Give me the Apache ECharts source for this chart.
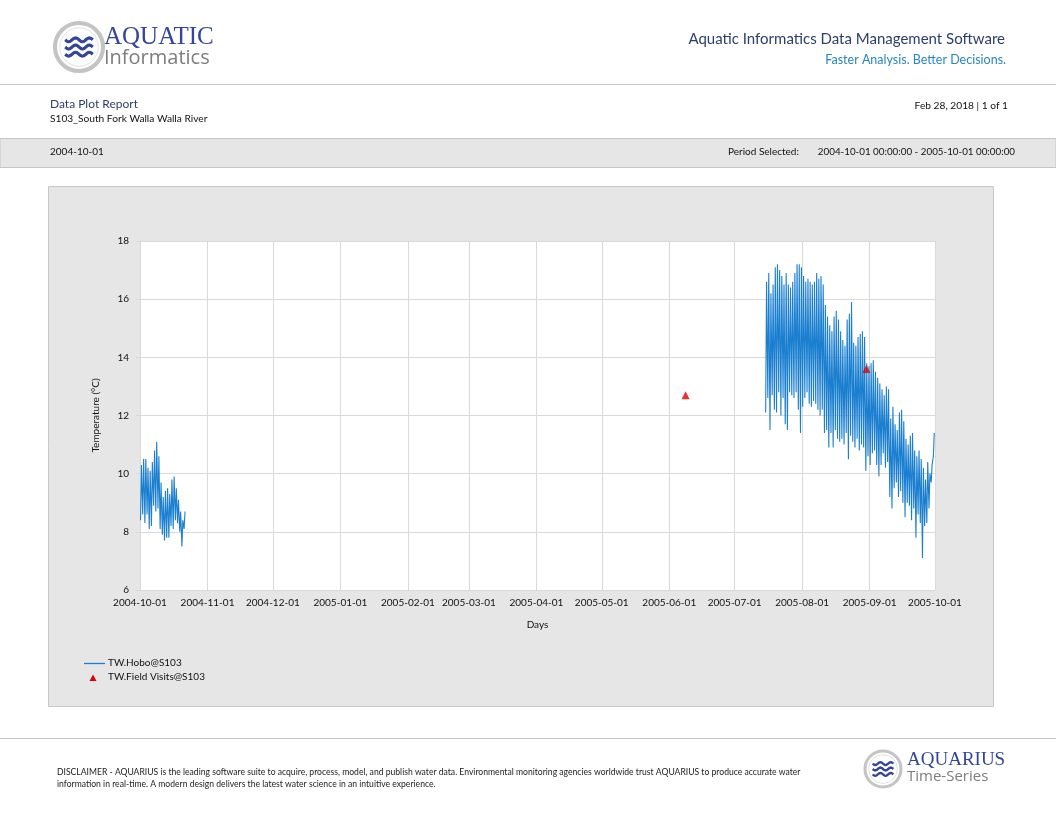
<!DOCTYPE html>
<html>
<head>
<meta charset="utf-8">
<title>Data Plot Report - S103</title>
<script src="https://cdn.jsdelivr.net/npm/echarts@6.0.0/dist/echarts.min.js"></script>
<style>
  html, body { margin: 0; padding: 0; background: #fff; }
  #chart { width: 1056px; height: 816px; }
</style>
</head>
<body>
<div id="chart"></div>
<script>
// ---- data ----
// TW.Hobo@S103, first run: daily low / high from 2004-10-01
const hoboStart1 = '2004-10-01';
const hoboMax1 = [10.3, 10.5, 10.5, 10.2, 10.1, 10.4, 10.8, 11.1, 10.6, 9.7, 9.2, 9.4, 9.5, 9.3, 9.8, 9.9, 9.5, 9.1, 8.7, 8.4, 8.7];
const hoboMin1 = [8.4, 8.6, 8.3, 8.6, 8.1, 8.2, 8.9, 8.7, 8.8, 8.1, 7.9, 7.7, 7.8, 7.8, 8.2, 8.1, 8.4, 8.3, 8.0, 7.5, 8.1];

// second run: daily low / high from 2005-07-15
const hoboStart2 = '2005-07-15';
const hoboMax2 = [
  16.6, 16.9, 16.2, 16.5, 17.1, 17.2, 17.0, 16.8, 16.5, 16.9,
  16.5, 16.4, 16.6, 16.9, 17.2, 17.2, 17.1, 16.8, 16.6, 16.7,
  16.6, 16.5, 16.6, 16.9, 16.7, 16.8, 16.5, 15.8, 15.4, 15.1,
  14.9, 15.4, 15.6, 15.3, 14.9, 14.6, 14.4, 15.3, 15.5, 15.9,
  14.5, 14.4, 14.7, 14.8, 14.9, 14.7, 13.8, 13.7, 13.8, 13.9,
  13.5, 13.3, 13.1, 12.9, 12.7, 13.0, 12.9, 11.9, 12.3, 11.7,
  11.5, 12.1, 12.2, 11.8, 11.2, 11.0, 11.3, 11.4, 10.8, 10.6,
  10.8, 10.5, 10.2, 9.8, 10.4, 10.0, 10.3, 11.4
];
const hoboMin2 = [
  12.1, 12.6, 11.5, 12.7, 12.2, 12.1, 12.8, 12.0, 12.6, 11.7,
  11.5, 12.8, 12.7, 12.6, 12.8, 12.2, 11.4, 12.3, 12.6, 12.8,
  12.4, 12.3, 12.5, 12.4, 12.2, 12.0, 12.2, 11.4, 11.5, 10.9,
  11.4, 10.9, 11.5, 11.2, 11.1, 11.2, 11.0, 11.4, 10.5, 11.3,
  11.1, 10.9, 11.2, 10.8, 11.0, 10.9, 10.1, 10.6, 10.3, 10.7,
  10.8, 10.3, 9.9, 10.3, 10.7, 10.2, 10.4, 9.2, 8.8, 9.5,
  9.7, 9.2, 9.4, 9.0, 8.5, 9.0, 8.9, 8.4, 8.8, 7.8,
  8.6, 8.3, 7.1, 8.2, 8.3, 8.8, 9.7, 10.6
];

// TW.Field Visits@S103
const visitTimes = ['2005-06-08 12:00', '2005-08-30 12:00'];
const visitValues = [12.7, 13.6];

const xMin = '2004-10-01';
const xMax = '2005-10-01';
const yTicks = [6, 8, 10, 12, 14, 16, 18];

// ---- build series data ----
const DAY = 86400000;
function dailySwing(start, lows, highs) {
  const t0 = new Date(start + 'T00:00:00').getTime();
  const out = [];
  for (let i = 0; i < lows.length; i++) {
    out.push([t0 + i * DAY + 6 * 3600000, lows[i]]);
    out.push([t0 + i * DAY + 16 * 3600000, highs[i]]);
  }
  return out;
}
const hoboData = dailySwing(hoboStart1, hoboMin1, hoboMax1)
  .concat([[new Date('2005-03-01T00:00:00').getTime(), null]])
  .concat(dailySwing(hoboStart2, hoboMin2, hoboMax2));
const visitData = visitTimes.map((t, i) => [new Date(t.replace(' ', 'T') + ':00').getTime(), visitValues[i]]);

const navy = '#2b3f6b';
const logoBlue = '#34469a';
const lineBlue = '#1b7fd0';
const ff = 'Lato, "Noto Sans", sans-serif';

// wavy lines for the logos
function wave(cx, cy, w, amp) {
  const pts = [];
  for (let k = 0; k <= 24; k++) {
    const x = cx - w / 2 + (w * k) / 24;
    pts.push([x, cy + amp * Math.sin((k / 24) * Math.PI * 4)]);
  }
  return pts;
}
function logo(cx, cy, r) {
  const els = [
    { type: 'circle', shape: { cx: cx, cy: cy, r: r }, style: { fill: '#fff', stroke: '#c4c4c4', lineWidth: r * 0.17 } },
    { type: 'circle', shape: { cx: cx, cy: cy, r: r * 0.8 }, style: { fill: '#fff', stroke: '#e2e2e2', lineWidth: 1 } }
  ];
  [-0.3, 0, 0.3].forEach(function (d) {
    els.push({ type: 'polyline', shape: { points: wave(cx, cy + d * r, r * 1.15, r * 0.08) },
      style: { stroke: logoBlue, lineWidth: r * 0.13, fill: null } });
  });
  return els;
}

const chart = echarts.init(document.getElementById('chart'), null, { renderer: 'canvas' });

const graphics = [
  // plot panel
  { type: 'rect', z: -10, shape: { x: 48.5, y: 186.5, width: 945, height: 520 }, style: { fill: '#e6e6e6', stroke: '#c8c8c8', lineWidth: 1 } },
  // header
  { type: 'text', left: 104, top: 25, style: { text: 'AQUATIC', font: '25px "Liberation Serif", serif', fill: logoBlue } },
  { type: 'text', left: 104, top: 48, style: { text: 'Informatics', font: '20px "Open Sans", sans-serif', fill: '#7d7d7d' } },
  { type: 'text', right: 51, top: 32, style: { text: 'Aquatic Informatics Data Management Software', font: '15px ' + ff, fill: navy } },
  { type: 'text', right: 50, top: 53, style: { text: 'Faster Analysis. Better Decisions.', font: '12.5px ' + ff, fill: '#2a86c2' } },
  { type: 'line', shape: { x1: 0, y1: 84.5, x2: 1056, y2: 84.5 }, style: { stroke: '#c6c6c6', lineWidth: 1 } },
  { type: 'text', left: 50, top: 98, style: { text: 'Data Plot Report', font: '12px ' + ff, fill: navy } },
  { type: 'text', left: 50, top: 114, style: { text: 'S103_South Fork Walla Walla River', font: '10.2px ' + ff, fill: '#111' } },
  { type: 'text', right: 48, top: 101, style: { text: 'Feb 28, 2018 | 1 of 1', font: '10.2px ' + ff, fill: '#111' } },
  { type: 'rect', z: -10, shape: { x: 0, y: 138.5, width: 1056, height: 29 }, style: { fill: '#e6e6e6', stroke: '#c6c6c6', lineWidth: 1 } },
  { type: 'text', left: 50, top: 147, style: { text: '2004-10-01', font: '10px ' + ff, fill: '#111' } },
  { type: 'text', left: 728, top: 147, style: { text: 'Period Selected:', font: '10px ' + ff, fill: '#111' } },
  { type: 'text', right: 41, top: 147, style: { text: '2004-10-01 00:00:00 - 2005-10-01 00:00:00', font: '9.8px ' + ff, fill: '#111' } },
  // legend
  { type: 'line', shape: { x1: 84, y1: 663.5, x2: 105, y2: 663.5 }, style: { stroke: lineBlue, lineWidth: 1.3 } },
  { type: 'text', left: 108, top: 658, style: { text: 'TW.Hobo@S103', font: '10px ' + ff, fill: '#111' } },
  { type: 'polygon', shape: { points: [[93, 674.5], [96.5, 681], [89.5, 681]] }, style: { fill: '#e00000' } },
  { type: 'text', left: 108, top: 672, style: { text: 'TW.Field Visits@S103', font: '10px ' + ff, fill: '#111' } },
  // footer
  { type: 'line', shape: { x1: 0, y1: 738.5, x2: 1056, y2: 738.5 }, style: { stroke: '#c6c6c6', lineWidth: 1 } },
  { type: 'text', left: 57, top: 768, style: { text: 'DISCLAIMER - AQUARIUS is the leading software suite to acquire, process, model, and publish water data. Environmental monitoring agencies worldwide trust AQUARIUS to produce accurate water', font: '8.6px ' + ff, fill: '#222' } },
  { type: 'text', left: 57, top: 780, style: { text: 'information in real-time. A modern design delivers the latest water science in an intuitive experience.', font: '8.6px ' + ff, fill: '#222' } },
  { type: 'text', left: 907, top: 751, style: { text: 'AQUARIUS', font: '19px "Liberation Serif", serif', fill: logoBlue } },
  { type: 'text', left: 907, top: 769, style: { text: 'Time-Series', font: '15px "Open Sans", sans-serif', fill: '#7d7d7d' } }
].concat(logo(79, 47, 24)).concat(logo(883, 769, 18));

const option = {
  backgroundColor: '#fff',
  animation: false,
  textStyle: { fontFamily: ff },
  grid: { left: 140, right: 121, top: 241, bottom: 226, containLabel: false, show: true, backgroundColor: '#fff', borderWidth: 0 },
  xAxis: {
    type: 'time',
    min: xMin,
    max: xMax,
    splitNumber: 12,
    minInterval: 28 * DAY,
    maxInterval: 31 * DAY,
    name: 'Days',
    nameLocation: 'middle',
    nameGap: 30,
    nameTextStyle: { fontSize: 10, color: '#111' },
    axisLine: { show: true, lineStyle: { color: '#d9d9d9' } },
    axisTick: { show: false },
    axisLabel: { formatter: '{yyyy}-{MM}-{dd}', fontSize: 10, color: '#111', margin: 8, hideOverlap: false, showMinLabel: true, showMaxLabel: true },
    splitLine: { show: true, lineStyle: { color: '#d9d9d9', width: 1 } }
  },
  yAxis: {
    type: 'value',
    min: yTicks[0],
    max: yTicks[yTicks.length - 1],
    interval: 2,
    name: 'Temperature (°C)',
    nameLocation: 'middle',
    nameGap: 39,
    nameTextStyle: { fontSize: 10, color: '#111' },
    axisLine: { show: true, lineStyle: { color: '#d9d9d9' } },
    axisTick: { show: true, length: 4, lineStyle: { color: '#d9d9d9' } },
    axisLabel: { fontSize: 10, color: '#111', margin: 11 },
    splitLine: { show: true, lineStyle: { color: '#d9d9d9', width: 1 } }
  },
  series: [
    {
      name: 'TW.Hobo@S103',
      type: 'line',
      data: hoboData,
      showSymbol: false,
      connectNulls: false,
      lineStyle: { color: lineBlue, width: 1.1 },
      itemStyle: { color: lineBlue }
    },
    {
      name: 'TW.Field Visits@S103',
      type: 'scatter',
      data: visitData,
      symbol: 'triangle',
      symbolSize: 8,
      itemStyle: { color: '#e00000' },
      z: 5
    }
  ],
  graphic: graphics
};

chart.setOption(option);
</script>
</body>
</html>
